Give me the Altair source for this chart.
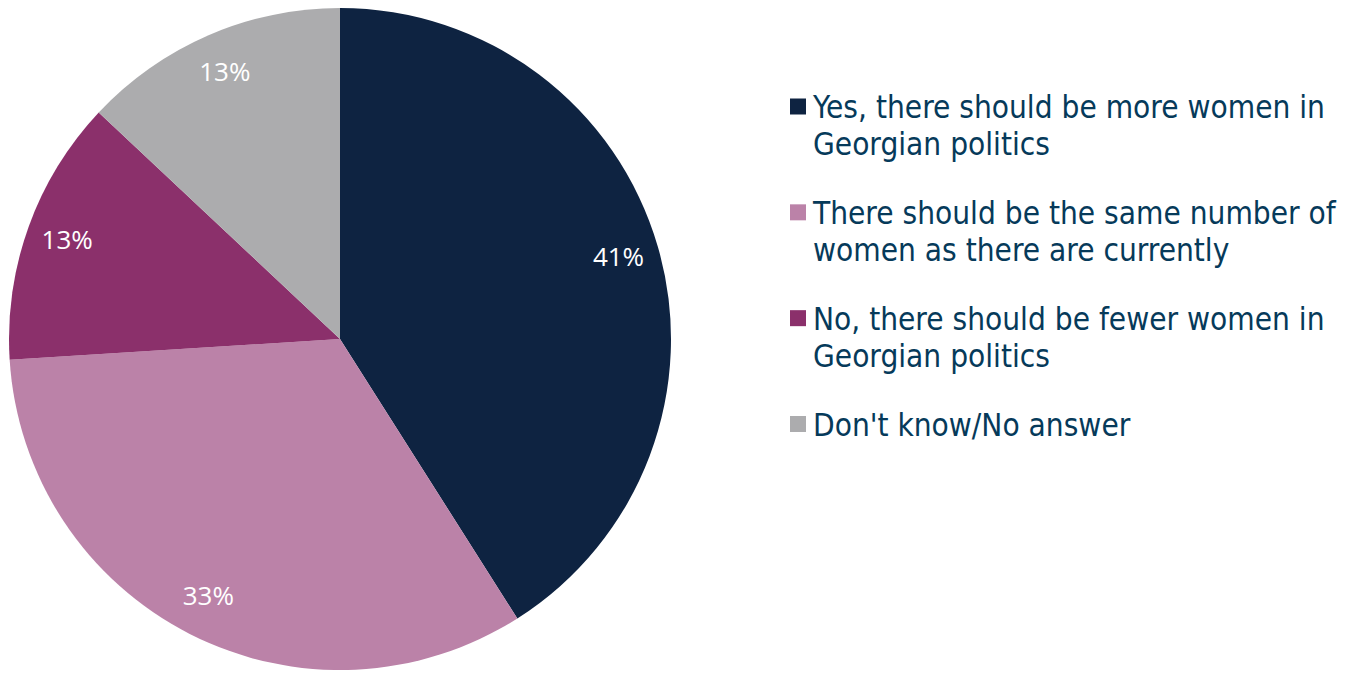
import altair as alt
import pandas as pd

categories = [
    "Yes, there should be more women in Georgian politics",
    "There should be the same number of women as there are currently",
    "No, there should be fewer women in Georgian politics",
    "Don't know/No answer",
]
line1 = [
    "Yes, there should be more women in",
    "There should be the same number of",
    "No, there should be fewer women in",
    "Don't know/No answer",
]
line2 = [
    "Georgian politics",
    "women as there are currently",
    "Georgian politics",
    "",
]
values = [41, 33, 13, 13]
labels = ["41%", "33%", "13%", "13%"]
colors = ["#0e2341", "#bb82a8", "#8b306b", "#acacae"]

df = pd.DataFrame({
    "cat": categories,
    "line1": line1,
    "line2": line2,
    "value": values,
    "label": labels,
    "order": list(range(len(categories))),
})

CX, CY, R = 332, 331, 331
color = alt.Color("cat:N", scale=alt.Scale(domain=categories, range=colors), legend=None)

base = alt.Chart(df)

pie = base.mark_arc(outerRadius=R, stroke=None).encode(
    theta=alt.Theta("value:Q", stack=True),
    order=alt.Order("order:Q"),
    color=color,
    x=alt.value(CX),
    y=alt.value(CY),
)

pct = base.mark_text(radius=290, font="Open Sans", fontSize=26, color="white").encode(
    theta=alt.Theta("value:Q", stack=True),
    order=alt.Order("order:Q"),
    text="label:N",
    x=alt.value(CX),
    y=alt.value(CY),
)

ly = alt.Y("cat:N", sort=categories, axis=None,
           scale=alt.Scale(type="point", range=[98.5, 416], padding=0))

squares = base.mark_square(size=256, opacity=1).encode(
    x=alt.value(790),
    y=ly,
    color=color,
)

txt1 = base.mark_text(align="left", baseline="middle", font="DejaVu Sans Condensed",
                      fontSize=31.3, color="#063a5a", dy=2.5).encode(
    x=alt.value(805), y=ly, text="line1:N")
txt2 = base.mark_text(align="left", baseline="middle", font="DejaVu Sans Condensed",
                      fontSize=31.3, color="#063a5a", dy=39.5).encode(
    x=alt.value(805), y=ly, text="line2:N")

chart = alt.layer(pie, pct, squares, txt1, txt2).properties(
    width=1329, height=662, padding=0, autosize=alt.AutoSizeParams(type="none")
).configure_view(stroke=None)

chart.save("out.html", embed_options={"renderer": "svg", "actions": False})
